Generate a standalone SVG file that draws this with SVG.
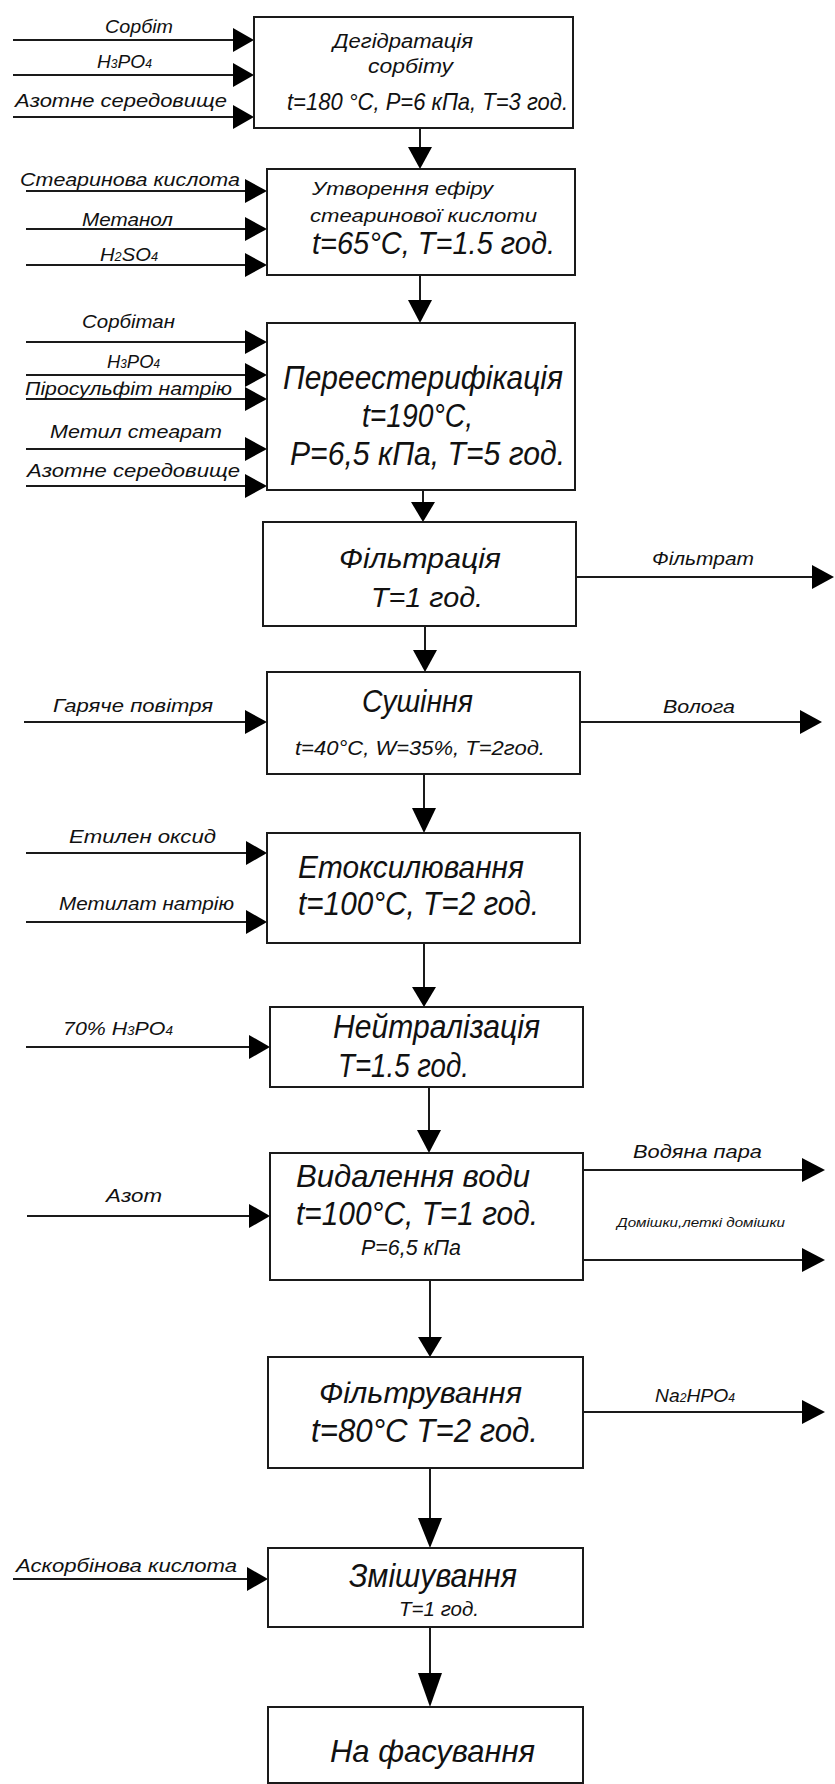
<svg xmlns="http://www.w3.org/2000/svg" width="835" height="1784" viewBox="0 0 835 1784">
<style>
  .bx{fill:#fff;stroke:#1a1a1a;stroke-width:2}
  .ln{stroke:#1a1a1a;stroke-width:2;fill:none}
  .ah{fill:#000;stroke:none}
  text{font-family:"Liberation Sans","DejaVu Sans",sans-serif;font-style:italic;fill:#111}
  .lb{font-size:19px}
  .sm{font-size:13px}
</style>
<rect width="835" height="1784" fill="#fff"/>

<g id="connectors">
  <line class="ln" x1="13" y1="40" x2="236" y2="40"/><polygon class="ah" points="233,28 254,40 233,52"/>
  <line class="ln" x1="13" y1="75" x2="236" y2="75"/><polygon class="ah" points="233,63 254,75 233,87"/>
  <line class="ln" x1="13" y1="117" x2="236" y2="117"/><polygon class="ah" points="233,105 254,117 233,129"/>
  <line class="ln" x1="26" y1="191" x2="248" y2="191"/><polygon class="ah" points="245,179 267,191 245,203"/>
  <line class="ln" x1="26" y1="229" x2="248" y2="229"/><polygon class="ah" points="245,217 267,229 245,241"/>
  <line class="ln" x1="26" y1="265" x2="248" y2="265"/><polygon class="ah" points="245,253 267,265 245,277"/>
  <line class="ln" x1="26" y1="342" x2="248" y2="342"/><polygon class="ah" points="245,330 267,342 245,354"/>
  <line class="ln" x1="26" y1="375" x2="248" y2="375"/><polygon class="ah" points="245,363 267,375 245,387"/>
  <line class="ln" x1="26" y1="399" x2="248" y2="399"/><polygon class="ah" points="245,387 267,399 245,411"/>
  <line class="ln" x1="26" y1="449" x2="248" y2="449"/><polygon class="ah" points="245,437 267,449 245,461"/>
  <line class="ln" x1="26" y1="486" x2="248" y2="486"/><polygon class="ah" points="245,474 267,486 245,498"/>
  <line class="ln" x1="24" y1="722" x2="248" y2="722"/><polygon class="ah" points="245,710 267,722 245,734"/>
  <line class="ln" x1="26" y1="853" x2="248" y2="853"/><polygon class="ah" points="246,841 267,853 246,865"/>
  <line class="ln" x1="26" y1="922" x2="248" y2="922"/><polygon class="ah" points="246,910 267,922 246,934"/>
  <line class="ln" x1="26" y1="1047" x2="251" y2="1047"/><polygon class="ah" points="249,1035 270,1047 249,1059"/>
  <line class="ln" x1="27" y1="1216" x2="251" y2="1216"/><polygon class="ah" points="249,1204 270,1216 249,1228"/>
  <line class="ln" x1="13" y1="1579" x2="250" y2="1579"/><polygon class="ah" points="247,1567 268,1579 247,1591"/>

  <line class="ln" x1="576" y1="577" x2="815" y2="577"/><polygon class="ah" points="812,565 834,577 812,589"/>
  <line class="ln" x1="580" y1="722" x2="803" y2="722"/><polygon class="ah" points="800,710 822,722 800,734"/>
  <line class="ln" x1="583" y1="1170" x2="805" y2="1170"/><polygon class="ah" points="802,1158 825,1170 802,1182"/>
  <line class="ln" x1="583" y1="1260" x2="805" y2="1260"/><polygon class="ah" points="802,1248 825,1260 802,1272"/>
  <line class="ln" x1="583" y1="1412" x2="805" y2="1412"/><polygon class="ah" points="802,1400 825,1412 802,1424"/>

  <line class="ln" x1="420" y1="128" x2="420" y2="150"/><polygon class="ah" points="408,147 432,147 420,169"/>
  <line class="ln" x1="420" y1="275" x2="420" y2="303"/><polygon class="ah" points="408,300 432,300 420,323"/>
  <line class="ln" x1="423" y1="490" x2="423" y2="505"/><polygon class="ah" points="411,502 435,502 423,522"/>
  <line class="ln" x1="425" y1="626" x2="425" y2="653"/><polygon class="ah" points="413,650 437,650 425,672"/>
  <line class="ln" x1="424" y1="774" x2="424" y2="811"/><polygon class="ah" points="412,808 436,808 424,833"/>
  <line class="ln" x1="424" y1="943" x2="424" y2="990"/><polygon class="ah" points="412,987 436,987 424,1007"/>
  <line class="ln" x1="429" y1="1087" x2="429" y2="1133"/><polygon class="ah" points="417,1130 441,1130 429,1153"/>
  <line class="ln" x1="430" y1="1280" x2="430" y2="1340"/><polygon class="ah" points="418,1337 442,1337 430,1357"/>
  <line class="ln" x1="430" y1="1468" x2="430" y2="1521"/><polygon class="ah" points="418,1518 442,1518 430,1548"/>
  <line class="ln" x1="430" y1="1627" x2="430" y2="1676"/><polygon class="ah" points="418,1673 442,1673 430,1707"/>
</g>

<g id="labels">
  <text class="lb" x="105" y="33" textLength="68" lengthAdjust="spacingAndGlyphs">Сорбіт</text>
  <text class="lb" x="97" y="68" textLength="55" lengthAdjust="spacingAndGlyphs">H<tspan font-size="12">3</tspan>PO<tspan font-size="12">4</tspan></text>
  <text class="lb" x="15" y="107" textLength="212" lengthAdjust="spacingAndGlyphs">Азотне середовище</text>
  <text class="lb" x="20" y="186" textLength="220" lengthAdjust="spacingAndGlyphs">Стеаринова кислота</text>
  <text class="lb" x="82" y="226" textLength="91" lengthAdjust="spacingAndGlyphs">Метанол</text>
  <text class="lb" x="100" y="261" textLength="58" lengthAdjust="spacingAndGlyphs">H<tspan font-size="12">2</tspan>SO<tspan font-size="12">4</tspan></text>
  <text class="lb" x="82" y="328" textLength="93" lengthAdjust="spacingAndGlyphs">Сорбітан</text>
  <text class="lb" x="107" y="368" textLength="53" lengthAdjust="spacingAndGlyphs">H<tspan font-size="12">3</tspan>PO<tspan font-size="12">4</tspan></text>
  <text class="lb" x="25" y="395" textLength="207" lengthAdjust="spacingAndGlyphs">Піросульфіт натрію</text>
  <text class="lb" x="50" y="438" textLength="172" lengthAdjust="spacingAndGlyphs">Метил стеарат</text>
  <text class="lb" x="27" y="477" textLength="213" lengthAdjust="spacingAndGlyphs">Азотне середовище</text>
  <text class="lb" x="652" y="565" textLength="102" lengthAdjust="spacingAndGlyphs">Фільтрат</text>
  <text class="lb" x="53" y="712" textLength="160" lengthAdjust="spacingAndGlyphs">Гаряче повітря</text>
  <text class="lb" x="663" y="713" textLength="72" lengthAdjust="spacingAndGlyphs">Волога</text>
  <text class="lb" x="69" y="843" textLength="147" lengthAdjust="spacingAndGlyphs">Етилен оксид</text>
  <text class="lb" x="59" y="910" textLength="175" lengthAdjust="spacingAndGlyphs">Метилат натрію</text>
  <text class="lb" x="63" y="1035" textLength="110" lengthAdjust="spacingAndGlyphs">70% H<tspan font-size="12">3</tspan>PO<tspan font-size="12">4</tspan></text>
  <text class="lb" x="633" y="1158" textLength="129" lengthAdjust="spacingAndGlyphs">Водяна пара</text>
  <text class="lb" x="106" y="1202" textLength="56" lengthAdjust="spacingAndGlyphs">Азот</text>
  <text class="sm" x="617" y="1227" textLength="168" lengthAdjust="spacingAndGlyphs">Домішки,леткі домішки</text>
  <text class="lb" x="655" y="1402" textLength="80" lengthAdjust="spacingAndGlyphs">Na<tspan font-size="12">2</tspan>HPO<tspan font-size="12">4</tspan></text>
  <text class="lb" x="16" y="1572" textLength="221" lengthAdjust="spacingAndGlyphs">Аскорбінова кислота</text>
</g>

<g id="n1">
  <rect class="bx" x="254" y="17" width="319" height="111"/>
  <text x="333" y="48" font-size="20" textLength="140" lengthAdjust="spacingAndGlyphs">Дегідратація</text>
  <text x="368" y="73" font-size="20" textLength="85" lengthAdjust="spacingAndGlyphs">сорбіту</text>
  <text x="287" y="110" font-size="24" textLength="281" lengthAdjust="spacingAndGlyphs">t=180 °C, P=6 кПа, T=3 год.</text>
</g>
<g id="n2">
  <rect class="bx" x="267" y="169" width="308" height="106"/>
  <text x="312" y="195" font-size="18" textLength="181" lengthAdjust="spacingAndGlyphs">Утворення ефіру</text>
  <text x="310" y="222" font-size="18" textLength="227" lengthAdjust="spacingAndGlyphs">стеаринової кислоти</text>
  <text x="312" y="254" font-size="32" textLength="243" lengthAdjust="spacingAndGlyphs">t=65°C,  T=1.5 год.</text>
</g>
<g id="n3">
  <rect class="bx" x="267" y="323" width="308" height="167"/>
  <text x="283" y="389" font-size="33" textLength="280" lengthAdjust="spacingAndGlyphs">Переестерифікація</text>
  <text x="362" y="427" font-size="33" textLength="111" lengthAdjust="spacingAndGlyphs">t=190°C,</text>
  <text x="290" y="465" font-size="33" textLength="275" lengthAdjust="spacingAndGlyphs">P=6,5 кПа,  T=5 год.</text>
</g>
<g id="n4">
  <rect class="bx" x="263" y="522" width="313" height="104"/>
  <text x="339" y="568" font-size="28" textLength="162" lengthAdjust="spacingAndGlyphs">Фільтрація</text>
  <text x="371" y="607" font-size="27" textLength="112" lengthAdjust="spacingAndGlyphs">T=1 год.</text>
</g>
<g id="n5">
  <rect class="bx" x="267" y="672" width="313" height="102"/>
  <text x="362" y="712" font-size="31" textLength="111" lengthAdjust="spacingAndGlyphs">Сушіння</text>
  <text x="295" y="755" font-size="20" textLength="250" lengthAdjust="spacingAndGlyphs">t=40°C, W=35%, T=2год.</text>
</g>
<g id="n6">
  <rect class="bx" x="267" y="833" width="313" height="110"/>
  <text x="298" y="878" font-size="32" textLength="226" lengthAdjust="spacingAndGlyphs">Етоксилювання</text>
  <text x="298" y="915" font-size="34" textLength="241" lengthAdjust="spacingAndGlyphs">t=100°C,  T=2 год.</text>
</g>
<g id="n7">
  <rect class="bx" x="270" y="1007" width="313" height="80"/>
  <text x="333" y="1038" font-size="34" textLength="207" lengthAdjust="spacingAndGlyphs">Нейтралізація</text>
  <text x="338" y="1077" font-size="34" textLength="131" lengthAdjust="spacingAndGlyphs">T=1.5 год.</text>
</g>
<g id="n8">
  <rect class="bx" x="270" y="1153" width="313" height="127"/>
  <text x="296" y="1187" font-size="32" textLength="234" lengthAdjust="spacingAndGlyphs">Видалення води</text>
  <text x="296" y="1225" font-size="34" textLength="242" lengthAdjust="spacingAndGlyphs">t=100°C,  T=1 год.</text>
  <text x="361" y="1255" font-size="22" textLength="100" lengthAdjust="spacingAndGlyphs">P=6,5 кПа</text>
</g>
<g id="n9">
  <rect class="bx" x="268" y="1357" width="315" height="111"/>
  <text x="319" y="1403" font-size="30" textLength="203" lengthAdjust="spacingAndGlyphs">Фільтрування</text>
  <text x="311" y="1442" font-size="34" textLength="227" lengthAdjust="spacingAndGlyphs">t=80°C T=2 год.</text>
</g>
<g id="n10">
  <rect class="bx" x="268" y="1548" width="315" height="79"/>
  <text x="349" y="1587" font-size="34" textLength="168" lengthAdjust="spacingAndGlyphs">Змішування</text>
  <text x="399" y="1616" font-size="20" textLength="80" lengthAdjust="spacingAndGlyphs">T=1 год.</text>
</g>
<g id="n11">
  <rect class="bx" x="268" y="1707" width="315" height="76"/>
  <text x="330" y="1762" font-size="32" textLength="205" lengthAdjust="spacingAndGlyphs">На фасування</text>
</g>
</svg>
